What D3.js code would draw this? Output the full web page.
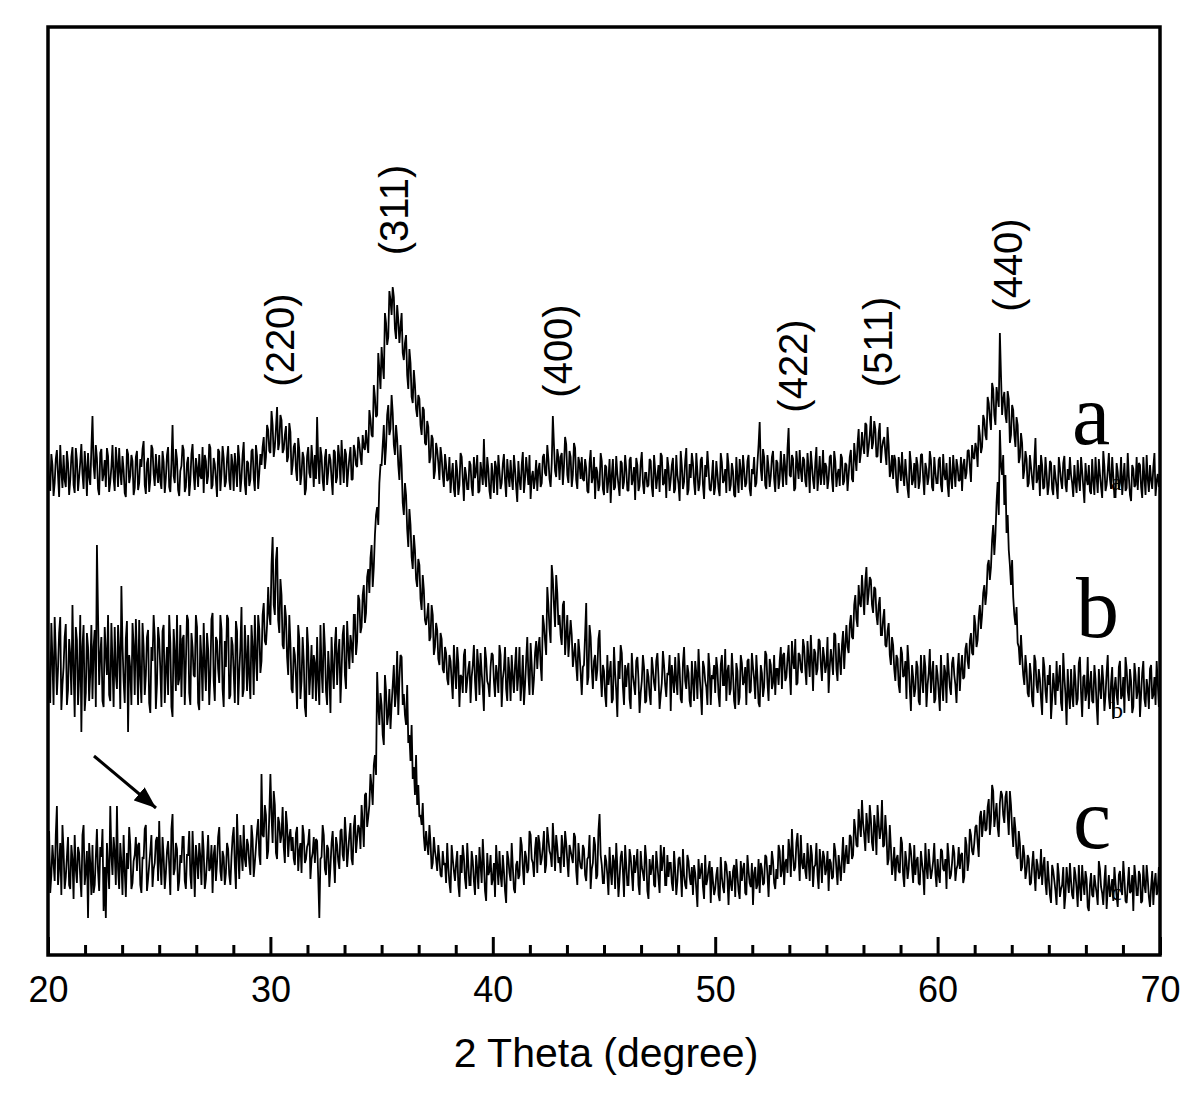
<!DOCTYPE html>
<html>
<head>
<meta charset="utf-8">
<script src="https://cdn.jsdelivr.net/npm/d3@7"></script>
<style>
  body { margin: 0; background: #fff; }
  svg { display: block; }
  text { fill: #000; }
</style>
</head>
<body>
<svg width="1200" height="1099"></svg>
<script>
// 2 theta grid (degrees): whole tenths in series*, the x.x5 points in series*Mid
const thetaStart = 20;
const thetaStep = 0.05;

// raw intensities at 20.0, 20.1 ... 70.0 (one row per degree)
const seriesA = [
  118,84,110,92,125,78,104,120,88,112,
  95,128,82,115,98,131,86,108,122,90,
  159,96,117,80,126,101,88,119,93,130,
  84,112,127,90,105,78,121,99,114,87,
  124,92,108,134,81,117,95,126,89,103,
  120,86,113,97,128,83,150,92,116,79,
  109,125,88,118,94,131,85,107,121,96,
  82,114,99,127,90,111,78,123,101,117,
  93,129,85,110,122,88,116,97,133,80,
  112,95,126,84,119,102,110,138,118,145,
  122,150,128,168,132,155,126,149,118,143,
  110,132,94,125,101,117,86,128,97,114,
  120,158,91,119,84,126,103,115,80,123,
  98,117,135,92,121,104,128,96,124,108,
  131,110,128,145,122,156,138,178,160,205,
  228,196,252,238,275,288,246,270,232,262,
  215,240,186,212,172,190,158,176,140,165,
  130,148,118,136,104,125,95,118,88,110,
  96,82,112,78,104,90,118,74,100,86,
  110,79,97,120,84,102,136,88,106,76,
  98,114,80,104,92,121,78,100,115,85,
  106,73,95,110,82,118,90,76,104,96,
  84,112,92,121,99,116,88,159,104,126,
  95,122,108,131,92,118,100,127,86,112,
  118,94,107,82,125,98,76,103,90,114,
  80,108,95,72,116,88,101,79,112,93,
  106,84,118,96,75,110,89,123,81,102,
  90,114,78,105,98,83,119,92,77,108,
  95,117,86,100,74,109,93,127,85,97,
  112,80,103,91,118,76,98,107,84,115,
  88,101,79,113,95,82,110,90,104,78,
  97,116,85,106,92,120,79,101,88,112,
  153,94,118,86,107,99,124,83,112,96,
  105,121,90,147,98,116,87,110,125,93,
  115,88,107,124,95,112,84,119,102,90,
  108,96,120,83,114,101,89,117,94,110,
  100,125,93,118,131,112,143,121,150,128,
  159,132,146,119,152,127,138,110,129,104,
  96,115,82,107,123,89,101,77,112,95,
  87,110,94,121,80,106,98,115,84,103,
  92,118,83,101,112,78,97,120,88,108,
  95,84,116,102,125,93,118,132,108,140,
  128,155,135,172,145,186,150,178,242,160,
  183,152,176,140,165,128,150,118,132,105,
  116,92,108,85,137,97,79,110,88,102,
  90,112,80,98,76,107,86,119,83,95,
  100,78,93,115,84,104,72,96,110,81,
  94,118,82,101,77,109,90,122,86,99,
  78,103,92,80,112,87,98,74,106,90,
  85,110,77,97,120,83,95,108,79,101,
  92
];
// raw intensities at 20.05, 20.15 ... 69.95
const seriesAMid = [
  92,121,79,116,100,130,87,95,124,80,
  118,90,127,84,113,101,124,79,98,126,
  110,130,86,122,94,115,127,83,108,97,
  128,88,103,119,82,126,92,120,80,118,
  85,116,126,90,112,83,130,101,121,92,
  94,124,82,120,88,112,99,126,85,104,
  130,83,112,79,121,101,117,88,99,128,
  120,91,131,86,117,95,126,84,129,88,
  116,95,121,84,107,130,83,120,91,114,
  89,124,97,130,86,121,128,106,150,124,
  164,118,147,125,160,122,140,113,152,100,
  128,105,137,90,123,80,119,102,130,88,
  96,113,128,95,117,90,121,96,125,92,
  130,90,112,126,88,117,95,130,110,138,
  118,140,125,132,165,140,190,158,222,186,
  210,262,230,284,260,278,236,255,248,222,
  232,200,226,178,205,166,180,150,168,132,
  154,112,140,96,132,112,128,100,121,94,
  118,100,86,115,80,122,96,108,86,114,
  88,118,104,82,113,90,98,118,84,112,
  82,108,120,86,111,94,116,88,97,120,
  88,114,85,123,96,104,120,98,86,115,
  105,88,118,102,130,96,112,130,98,118,
  118,90,138,100,124,88,132,95,118,96,
  96,116,84,112,92,118,108,84,122,86,
  110,82,116,100,85,119,90,114,86,120,
  85,115,90,108,117,84,112,92,102,88,
  116,88,120,86,110,122,90,106,118,84,
  110,82,120,91,124,86,114,80,111,122,
  92,122,84,115,90,110,124,86,98,80,
  114,86,122,92,106,122,84,112,80,118,
  82,104,120,88,114,86,106,118,92,130,
  106,126,90,120,88,118,96,115,86,124,
  88,107,126,100,120,84,124,96,104,118,
  94,122,82,110,86,128,100,90,125,112,
  86,118,96,124,88,106,121,90,112,84,
  118,96,132,104,146,122,130,152,118,140,
  126,154,118,142,112,134,122,148,98,120,
  120,90,118,94,100,116,86,124,90,112,
  118,86,120,98,112,90,124,88,118,92,
  115,90,121,95,90,118,86,104,116,94,
  118,110,96,124,108,130,116,126,150,122,
  160,140,178,156,192,160,188,168,200,176,
  160,184,132,170,140,158,112,142,96,124,
  88,120,96,114,92,110,120,86,118,80,
  114,86,110,88,118,94,112,90,106,118,
  92,110,82,96,118,88,112,90,84,116,
  80,98,116,88,124,84,104,96,118,78,
  112,86,118,96,84,122,80,110,88,118,
  112,88,118,80,96,110,86,122,94,88
];

const seriesB = [
  120,62,105,148,70,132,55,98,141,75,
  110,160,48,125,88,33,140,72,118,92,
  66,135,220,80,128,58,112,150,64,102,
  138,76,115,179,84,126,33,96,142,70,
  108,145,62,118,90,135,52,104,128,81,
  125,58,140,95,70,122,48,112,150,86,
  68,130,102,145,60,118,88,138,55,106,
  142,74,116,90,152,64,124,82,136,58,
  98,146,70,120,62,134,92,158,76,112,
  130,66,118,150,84,136,104,162,120,178,
  140,228,150,218,132,170,116,148,90,122,
  72,110,56,126,84,104,48,118,92,66,
  102,128,60,96,142,74,114,52,98,120,
  80,126,94,140,76,118,130,102,150,124,
  165,138,180,152,196,207,178,230,258,282,
  300,340,318,360,336,352,310,326,285,300,
  250,270,218,240,196,215,178,200,155,175,
  140,162,128,150,118,135,100,126,92,112,
  80,104,66,95,118,58,88,110,72,96,
  62,100,84,116,70,92,54,106,80,98,
  110,68,90,120,58,96,76,108,64,88,
  100,74,118,82,60,104,90,122,70,112,
  96,128,84,140,110,160,122,186,138,172,
  150,120,164,130,108,145,98,122,84,112,
  70,100,162,88,128,76,110,95,135,68,
  94,58,80,104,66,92,48,86,112,60,
  78,102,56,90,70,108,52,84,98,64,
  88,60,96,74,112,56,82,100,68,90,
  54,86,108,70,96,62,118,76,92,58,
  84,104,66,90,50,98,78,112,60,86,
  72,96,58,110,80,64,100,76,92,56,
  94,68,102,84,60,106,74,98,66,88,
  58,92,78,110,64,100,82,70,96,104,
  76,112,88,120,70,104,126,82,110,92,
  118,80,106,130,74,112,96,124,84,108,
  100,72,116,90,130,84,106,120,96,140,
  112,150,126,170,138,162,190,150,198,172,
  185,152,176,140,168,130,156,118,142,100,
  120,84,106,72,112,90,66,102,54,88,
  76,98,60,86,110,58,92,72,104,66,
  90,54,82,100,62,94,70,108,80,96,
  74,110,88,122,96,132,110,140,125,160,
  150,180,172,205,198,240,230,283,335,290,
  260,232,215,180,168,140,122,100,108,80,
  96,68,90,58,104,72,86,50,98,62,
  80,46,92,60,74,100,54,88,40,70,
  96,58,84,66,108,48,90,72,56,94,
  62,86,40,78,100,54,92,68,82,46,
  88,60,104,70,52,96,64,84,58,90,
  74,48,92,66,86,56,100,70,60,82,
  68
];
const seriesBMid = [
  82,142,60,112,96,148,80,128,60,126,
  70,96,138,60,150,118,54,132,64,140,
  118,58,150,110,64,138,90,70,142,58,
  90,140,56,120,62,144,110,60,120,146,
  60,88,142,70,128,62,118,150,56,138,
  96,134,62,118,150,58,136,74,80,140,
  126,60,150,72,132,90,150,62,130,64,
  100,132,60,146,84,128,96,150,76,124,
  150,66,128,92,144,60,118,68,140,74,
  88,140,70,108,150,92,150,124,140,150,
  200,160,205,145,186,120,160,108,150,76,
  118,88,140,66,128,58,138,70,120,110,
  64,84,140,72,118,60,92,128,76,138,
  110,62,130,90,144,96,120,150,110,170,
  132,170,142,188,172,220,198,250,240,300,
  320,300,350,330,370,320,340,300,320,262,
  282,236,256,208,230,186,206,166,190,145,
  150,124,160,110,142,106,132,96,118,86,
  110,84,120,76,102,90,72,116,84,104,
  88,120,64,100,112,76,118,84,68,112,
  84,100,72,110,86,118,64,92,110,72,
  118,90,64,110,80,128,70,100,86,124,
  118,100,150,124,178,136,200,160,190,140,
  130,160,110,150,126,130,110,100,126,92,
  98,130,80,140,96,104,84,126,90,100,
  70,110,92,62,118,74,104,120,78,100,
  96,66,112,80,104,86,72,110,62,96,
  70,108,82,104,88,70,114,80,92,110,
  100,72,84,112,66,102,84,100,64,104,
  64,92,116,72,104,84,60,96,90,100,
  108,70,100,80,116,94,70,112,64,102,
  60,110,80,98,104,72,112,86,110,62,
  100,68,114,82,106,76,110,96,80,118,
  110,84,106,92,124,96,80,112,96,126,
  96,124,88,104,116,90,126,100,118,92,
  128,98,104,132,96,122,90,134,120,118,
  140,128,160,146,180,158,170,184,160,188,
  160,178,150,160,130,146,120,134,110,128,
  96,110,80,118,88,104,120,76,100,68,
  104,64,110,72,98,80,116,90,62,100,
  72,110,64,92,112,78,102,90,62,112,
  96,86,116,104,124,112,150,118,148,136,
  172,160,200,185,225,210,262,250,300,310,
  290,250,200,205,150,158,118,130,90,110,
  72,102,64,110,80,96,66,108,74,90,
  100,66,78,104,86,62,112,70,96,56,
  70,100,60,102,72,88,64,108,80,64,
  100,60,96,66,84,70,110,56,98,76,
  70,98,66,88,108,74,96,52,102,66,
  98,70,104,58,76,96,66,88,104,58
];

const seriesC = [
  95,62,110,74,149,88,60,104,78,118,
  66,96,120,72,102,58,130,84,37,92,
  110,70,126,64,98,44,37,88,149,80,
  102,149,66,92,120,58,86,110,72,100,
  84,112,62,96,130,76,104,68,92,118,
  134,70,98,82,114,60,141,86,106,74,
  92,118,66,100,80,124,58,96,112,70,
  104,76,120,88,62,110,92,128,74,98,
  82,106,70,118,90,141,76,102,130,88,
  110,80,116,92,124,100,181,118,140,104,
  181,112,150,96,132,120,108,144,98,126,
  118,90,128,104,82,120,96,112,76,102,
  92,114,37,98,120,80,106,88,124,72,
  110,86,126,94,118,104,132,90,140,116,
  126,150,108,162,138,181,150,200,283,230,
  250,210,264,240,226,270,248,304,276,298,
  261,230,212,194,176,160,150,138,130,118,
  124,100,112,92,104,84,96,78,90,72,
  88,62,96,74,104,58,82,98,66,90,
  70,94,60,86,108,72,92,54,80,100,
  76,58,90,104,68,84,52,96,74,88,
  62,94,80,110,70,98,86,120,92,106,
  82,112,96,124,90,116,100,132,84,108,
  98,120,88,112,78,104,92,118,70,96,
  86,106,74,98,66,92,110,80,141,90,
  72,94,60,84,100,66,88,76,104,58,
  90,70,98,64,82,106,60,88,74,96,
  56,80,100,68,90,62,84,108,70,78,
  92,64,86,74,98,58,80,66,94,70,
  60,82,48,76,92,56,70,86,52,74,
  66,88,54,78,62,90,50,72,84,58,
  80,56,74,92,60,84,68,50,88,70,
  62,86,72,98,58,80,94,66,76,104,
  84,70,96,116,78,100,88,122,74,92,
  102,76,94,110,68,90,80,106,72,98,
  86,64,92,78,104,70,88,96,82,110,
  92,118,100,126,108,130,155,120,142,112,
  136,104,128,150,116,155,110,122,96,108,
  90,74,100,82,112,68,94,86,104,72,
  80,98,70,92,60,88,106,76,94,82,
  96,72,104,84,66,98,80,110,74,90,
  86,102,78,110,94,120,100,128,112,138,
  118,145,126,156,135,164,140,128,152,160,
  132,164,120,150,108,126,96,112,88,100,
  84,96,72,104,64,90,80,70,98,60,
  76,52,84,64,92,58,70,46,88,62,
  74,56,80,48,68,90,60,76,44,82,
  58,70,50,86,62,74,46,80,66,54,
  72,48,84,60,76,52,88,64,44,78,
  60,80,54,70,90,58,68,50,82,64,
  70
];
const seriesCMid = [
  124,80,92,120,70,112,130,66,98,70,
  110,56,86,108,78,120,70,104,112,60,
  62,98,84,108,126,88,112,66,100,118,
  70,86,112,60,84,102,128,66,94,118,
  110,70,98,126,64,90,120,86,114,74,
  92,118,66,104,90,126,80,112,64,100,
  118,74,100,124,66,94,110,76,98,124,
  66,96,84,110,100,74,118,84,104,70,
  112,80,98,128,66,104,120,84,96,116,
  92,130,78,108,136,90,120,150,96,140,
  140,164,102,138,112,148,92,130,118,104,
  96,122,84,112,130,92,108,126,96,118,
  116,78,96,130,86,110,68,112,96,118,
  94,124,100,138,88,120,96,128,102,130,
  106,132,160,128,150,168,190,180,248,262,
  220,280,230,266,250,290,262,240,300,250,
  240,270,220,230,188,200,170,140,152,104,
  110,130,86,118,96,110,80,104,92,112,
  72,110,84,92,70,100,110,76,112,70,
  104,74,100,66,90,116,64,102,84,70,
  92,110,70,80,100,64,104,82,112,66,
  90,76,118,88,104,82,124,96,78,118,
  120,90,108,82,128,104,88,110,120,92,
  82,106,124,94,110,98,122,84,112,88,
  110,80,96,120,86,118,76,124,100,72,
  100,80,108,70,94,112,58,98,84,110,
  70,106,82,100,92,70,104,82,110,64,
  96,88,70,104,76,110,96,70,100,92,
  72,104,60,96,82,106,70,100,78,88,
  90,66,96,84,68,100,76,94,88,60,
  80,60,98,68,94,76,84,64,90,96,
  64,94,86,62,100,72,92,82,66,96,
  92,70,100,80,90,104,72,86,110,78,
  110,92,82,104,126,84,112,98,120,86,
  84,112,74,100,88,112,66,94,104,80,
  104,96,76,112,86,100,74,118,98,92,
  120,96,136,110,146,118,132,104,128,150,
  112,140,100,132,126,108,140,90,130,80,
  108,96,84,118,80,104,76,112,88,110,
  94,72,104,82,112,76,90,84,112,68,
  80,106,86,96,112,76,92,102,86,108,
  100,72,118,84,126,104,112,130,98,144,
  132,124,148,120,170,128,152,118,164,140,
  158,140,164,126,138,100,124,84,110,76,
  100,70,90,82,96,76,106,88,72,94,
  60,90,74,50,80,66,88,60,74,92,
  60,88,66,90,54,72,84,48,70,60,
  80,62,94,68,50,90,66,58,76,88,
  58,80,66,94,54,70,62,80,90,60,
  84,52,90,62,76,48,84,72,60,88
];

const seriesNames = ["a", "b", "c"];
const seriesOffsets = [380, 190, 0];   // vertical stacking offset, intensity units

// reflections
const hklLabels = ["(220)", "(311)", "(400)", "(422)", "(511)", "(440)"];
const hklTheta = [30.43, 35.55, 42.92, 53.48, 57.3, 63.15];

const xTicks = [20, 30, 40, 50, 60, 70];

const sans = "'Liberation Sans', Arial, sans-serif";
const serif = "'Liberation Serif', 'Times New Roman', serif";

const svg = d3.select("svg");
const mLeft = 48, mRight = 1160, mTop = 27, mBottom = 955;

const x = d3.scaleLinear().domain([20, 70]).range([mLeft, mRight]);
const y = d3.scaleLinear().domain([0, 928]).range([mBottom, mTop]);

// merge whole-tenth and half-step readings into one trace
function interleave(main, mid) {
    const out = [];
    main.forEach((v, i) => {
        out.push(v);
        if (i < mid.length) out.push(mid[i]);
    });
    return out;
}

const allSeries = [
    interleave(seriesA, seriesAMid),
    interleave(seriesB, seriesBMid),
    interleave(seriesC, seriesCMid)
];

const line = d3.line()
    .x((d, i) => x(thetaStart + i * thetaStep))
    .y(d => y(d));

allSeries.forEach((s, k) => {
    svg.append("path")
        .attr("d", line(s.map(v => v + seriesOffsets[k])))
        .attr("fill", "none")
        .attr("stroke", "#000")
        .attr("stroke-width", 1.8)
        .attr("stroke-linejoin", "miter")
        .attr("stroke-miterlimit", 2);
});

// minor ticks (6 divisions per 10 degrees)
const minor = d3.range(20, 70.001, 10 / 6).filter(v => Math.abs(v - Math.round(v / 10) * 10) > 0.01);
svg.append("g")
    .attr("transform", `translate(0,${mBottom})`)
    .call(d3.axisBottom(x).tickValues(minor).tickSize(-10).tickFormat(""))
    .call(g => g.select(".domain").remove())
    .call(g => g.selectAll("line").attr("stroke-width", 3));

// major ticks + labels
svg.append("g")
    .attr("transform", `translate(0,${mBottom})`)
    .call(d3.axisBottom(x).tickValues(xTicks).tickSize(-18).tickFormat(d3.format("d")))
    .call(g => g.select(".domain").remove())
    .call(g => g.selectAll("line").attr("stroke-width", 3))
    .call(g => g.selectAll("text")
        .style("font-family", sans)
        .style("font-size", "36px")
        .attr("fill", "#000")
        .attr("y", 47)
        .attr("dy", 0));

// frame
svg.append("rect")
    .attr("x", mLeft).attr("y", mTop)
    .attr("width", mRight - mLeft).attr("height", mBottom - mTop)
    .attr("fill", "none").attr("stroke", "#000").attr("stroke-width", 3.5);

svg.append("text")
    .attr("x", 606).attr("y", 1067)
    .attr("text-anchor", "middle")
    .style("font-family", sans)
    .style("font-size", "41px")
    .text("2 Theta (degree)");

// hkl labels, rotated
const labelCenterY = [340, 210, 351, 366, 342, 265];
hklLabels.forEach((t, i) => {
    svg.append("text")
        .attr("transform", `translate(${x(hklTheta[i])},${labelCenterY[i]}) rotate(-90)`)
        .attr("text-anchor", "middle")
        .attr("dy", "0.36em")
        .style("font-family", sans)
        .style("font-size", "40px")
        .text(t);
});

// series letters
const letterPos = [[1072, 444], [1076, 637], [1073, 848]];
seriesNames.forEach((n, i) => {
    svg.append("text")
        .attr("x", letterPos[i][0]).attr("y", letterPos[i][1])
        .style("font-family", serif)
        .style("font-size", "86px")
        .text(n);
    // small marker letter at trace end
    svg.append("text")
        .attr("x", 1111).attr("y", [490, 718, 900][i])
        .style("font-family", serif)
        .style("font-size", "24px")
        .text(n);
});

// arrow
svg.append("defs").append("marker")
    .attr("id", "head")
    .attr("viewBox", "0 0 10 10")
    .attr("refX", 10).attr("refY", 5)
    .attr("markerWidth", 22).attr("markerHeight", 17)
    .attr("markerUnits", "userSpaceOnUse")
    .attr("orient", "auto")
    .attr("preserveAspectRatio", "none")
    .append("path").attr("d", "M0,0 L10,5 L0,10 Z").attr("fill", "#000");

svg.append("line")
    .attr("x1", 94).attr("y1", 756)
    .attr("x2", 156).attr("y2", 808)
    .attr("stroke", "#000").attr("stroke-width", 3)
    .attr("marker-end", "url(#head)");
</script>
</body>
</html>
